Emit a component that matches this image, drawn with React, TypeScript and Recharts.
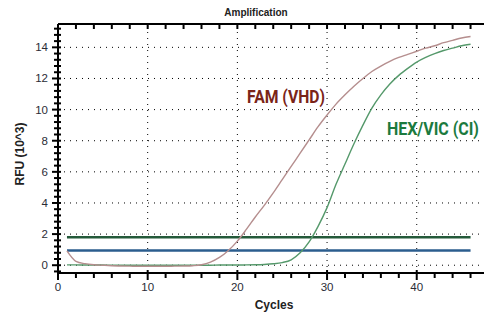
import React from "react";
import { LineChart, Line, XAxis, YAxis, ReferenceLine } from "recharts";

const CYCLES = [
  1, 2, 3, 4, 5, 6, 7, 8, 9, 10, 11, 12, 13, 14, 15, 16, 17, 18, 19, 20, 21, 22, 23,
  24, 25, 26, 27, 28, 29, 30, 31, 32, 33, 34, 35, 36, 37, 38, 39, 40, 41, 42, 43, 44, 45, 46,
];
const FAM = [
  0.92, 0.25, 0.1, 0.03, 0.0, -0.03, -0.05, -0.06, -0.07, -0.07, -0.07, -0.07, -0.06, -0.05, -0.03, 0.03,
  0.2, 0.5, 0.95, 1.55, 2.3, 3.1, 3.85, 4.65, 5.5, 6.35, 7.2, 8.05, 8.9, 9.65, 10.35, 10.95, 11.5,
  12.0, 12.45, 12.8, 13.1, 13.35, 13.55, 13.75, 13.95, 14.1, 14.3, 14.45, 14.6, 14.7,
];
const HEX = [
  0.02, 0.02, 0.01, 0.01, 0.01, 0.0, 0.0, 0.0, 0.0, 0.0, 0.0, 0.0, 0.0, 0.0, 0.0, 0.0,
  0.0, 0.01, 0.01, 0.01, 0.02, 0.03, 0.05, 0.09, 0.17, 0.35, 0.8, 1.5, 2.5, 3.7, 5.2, 6.5, 7.8,
  9.0, 10.1, 10.95, 11.65, 12.2, 12.65, 13.05, 13.35, 13.6, 13.8, 13.95, 14.1, 14.2,
];
const HEX_THRESHOLD = 1.8;
const FAM_THRESHOLD = 0.95;

const X_DOMAIN = [0, 47.5];
const Y_DOMAIN = [-0.5, 15.5];
const X_MAJOR = [0, 10, 20, 30, 40];
const X_MINOR = [0, 2, 4, 6, 8, 10, 12, 14, 16, 18, 20, 22, 24, 26, 28, 30, 32, 34, 36, 38, 40, 42, 44, 46];
const Y_MAJOR = [0, 2, 4, 6, 8, 10, 12, 14];
// minor ticks: 5 steps between labelled ticks
const Y_MINOR = Array.from({ length: 40 }, (_, i) => Math.round((-0.4 + i * 0.4) * 10) / 10);

const data = CYCLES.map((c, i) => ({
  cycle: c,
  fam: FAM[i],
  hex: HEX[i],
  hexThr: HEX_THRESHOLD,
  famThr: FAM_THRESHOLD,
}));

const FONT = "'Liberation Sans', Arial, sans-serif";
const TICK_COLOR = "#2a2c36";
const GRID = { stroke: "#000", strokeWidth: 1, strokeDasharray: "1 5" };
const AXIS = { stroke: "#000", strokeWidth: 2 };
// tick lengths in data units (x: ~8.95 px/cycle, y: ~15.56 px/unit)
const PX_X = 1 / 8.95;
const PX_Y = 1 / 15.56;

const isMajor = (v: number, list: number[]) => list.some((m) => Math.abs(m - v) < 1e-6);

const BottomTick = (p: any) => {
  const v = p.payload.value;
  if (!isMajor(v, X_MAJOR)) return <g />;
  return (
    <text x={p.x} y={p.y + 18} textAnchor="middle" fontSize={11.5} fontFamily={FONT} fill={TICK_COLOR}>
      {v}
    </text>
  );
};

const LeftTick = (p: any) => {
  const v = p.payload.value;
  if (!isMajor(v, Y_MAJOR)) return <g />;
  return (
    <text x={p.x - 10} y={p.y + 4} textAnchor="end" fontSize={11.5} fontFamily={FONT} fill={TICK_COLOR}>
      {v}
    </text>
  );
};

export default function App() {
  const [x0] = X_DOMAIN;
  const [y0, y1] = Y_DOMAIN;
  return (
    <div style={{ position: "absolute", left: 0, top: 0, width: 484, height: 313, background: "#fff" }}>
      <LineChart width={484} height={313} data={data} margin={{ top: 24, right: 0, left: 0, bottom: 0 }}>
        <XAxis
          dataKey="cycle" type="number" domain={X_DOMAIN} ticks={X_MINOR} interval={0}
          height={40} tickSize={0} tickMargin={0} tick={<BottomTick />} tickLine={false}
          stroke="#000" axisLine={AXIS}
        />
        <YAxis
          type="number" domain={Y_DOMAIN} ticks={Y_MINOR} interval={0} width={58}
          tickSize={0} tickMargin={0} tick={<LeftTick />} tickLine={false} stroke="#000" axisLine={AXIS}
        />
        {X_MAJOR.filter((v) => v > 0).map((v) => (
          <ReferenceLine key={"x" + v} x={v} {...GRID} />
        ))}
        {Y_MAJOR.map((v) => (
          <ReferenceLine key={"y" + v} y={v} {...GRID} />
        ))}
        {/* frame: bottom, left, top */}
        <ReferenceLine y={y0} ifOverflow="visible" stroke="#000" strokeWidth={2} />
        <ReferenceLine x={x0} ifOverflow="visible" stroke="#000" strokeWidth={2} />
        <ReferenceLine y={y1} ifOverflow="visible" stroke="#000" strokeWidth={2} />
        {X_MINOR.map((v) => {
          const major = isMajor(v, X_MAJOR);
          return (
            <ReferenceLine
              key={"bt" + v} ifOverflow="visible" stroke="#000" strokeWidth={2}
              segment={[{ x: v, y: y0 + (major ? 3 : 0) * PX_Y }, { x: v, y: y0 - (major ? 7 : 5) * PX_Y }]}
            />
          );
        })}
        {X_MINOR.map((v) => (
          <ReferenceLine
            key={"tt" + v} ifOverflow="visible" stroke="#000" strokeWidth={2}
            segment={[{ x: v, y: y1 }, { x: v, y: y1 - 5 * PX_Y }]}
          />
        ))}
        {Y_MINOR.map((v) => {
          const major = isMajor(v, Y_MAJOR);
          return (
            <ReferenceLine
              key={"lt" + v} ifOverflow="visible" stroke="#000" strokeWidth={2}
              segment={[{ x: x0 - (major ? 6 : 4) * PX_X, y: v }, { x: x0 + 3 * PX_X, y: v }]}
            />
          );
        })}
        <Line dataKey="hexThr" stroke="#245a3a" strokeWidth={2.5} dot={false} isAnimationActive={false} />
        <Line dataKey="famThr" stroke="#2b5d8e" strokeWidth={2.5} dot={false} isAnimationActive={false} />
        <Line type="monotone" dataKey="hex" stroke="#55996b" strokeWidth={1.4} dot={false} isAnimationActive={false} />
        <Line type="monotone" dataKey="fam" stroke="#b58e8e" strokeWidth={1.4} dot={false} isAnimationActive={false} />
      </LineChart>
      <svg width={484} height={313} style={{ position: "absolute", left: 0, top: 0, pointerEvents: "none" }}>
        <text x={256} y={16} textAnchor="middle" fontSize={10} fontWeight="bold" fontFamily={FONT} fill="#222">
          Amplification
        </text>
        <text x={274} y={309} textAnchor="middle" fontSize={12} fontWeight="bold" fontFamily={FONT} fill="#222">
          Cycles
        </text>
        <text
          x={24} y={154} transform="rotate(-90 24 154)" textAnchor="middle" fontSize={12} fontWeight="bold"
          fontFamily={FONT} fill="#222"
        >
          RFU (10^3)
        </text>
        <g transform="translate(247 103) scale(0.86 1)">
          <text x={0} y={0} fontSize={18} fontWeight="bold" fontFamily="Roboto, sans-serif" fill="#7a2418"
            textLength={90.7} lengthAdjust="spacingAndGlyphs">
            FAM (VHD)
          </text>
        </g>
        <g transform="translate(387 134.5) scale(0.83 1)">
          <text x={0} y={0} fontSize={18} fontWeight="bold" fontFamily="Roboto, sans-serif" fill="#1b7a3e"
            textLength={110.8} lengthAdjust="spacingAndGlyphs">
            HEX/VIC (CI)
          </text>
        </g>
      </svg>
    </div>
  );
}
